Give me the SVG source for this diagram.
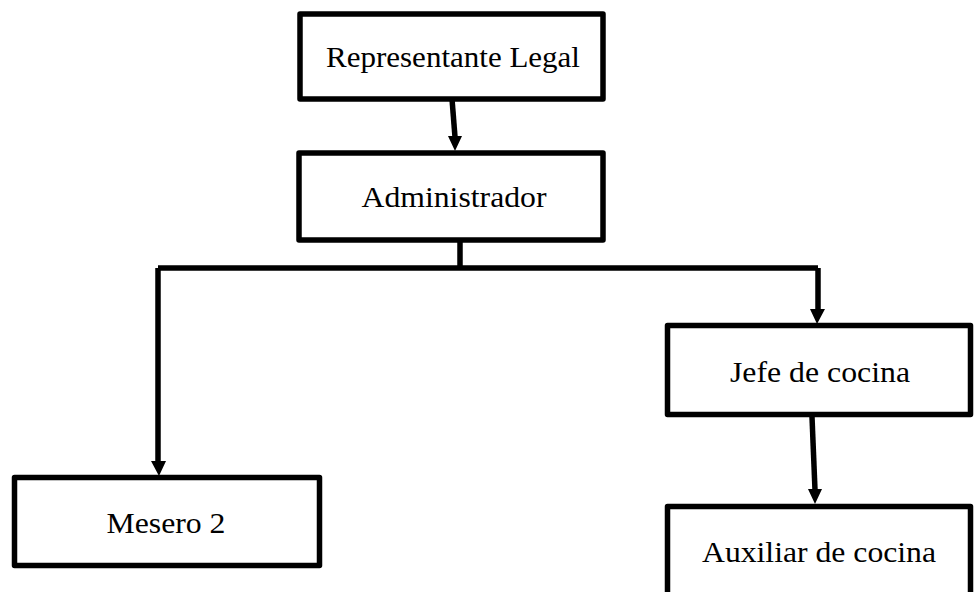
<svg xmlns="http://www.w3.org/2000/svg" width="974" height="592" viewBox="0 0 974 592">
<style>
.box{fill:#fff;stroke:#000;stroke-width:5.5;stroke-linejoin:round}
.lbl{font-family:'Liberation Serif',Tinos,'Times New Roman',serif;font-size:29px;fill:#000;text-anchor:middle}
.ln{fill:none;stroke:#000;stroke-width:5.5;stroke-linejoin:round}
.hd{fill:#000}
</style>
<rect width="974" height="592" fill="#fff"/>
<g id="connectors">
<path class="ln" d="M452,99 L455,137"/>
<polygon class="hd" points="448,136 462,136 455,151"/>
<path class="ln" d="M460,242 L460,268 M158,268 L818,268 M158,268 L158,462 M818,268 L818,310"/>
<polygon class="hd" points="151,461 166,461 159,476"/>
<polygon class="hd" points="810,309 825,309 817,324"/>
<path class="ln" d="M812,417 L815,490"/>
<polygon class="hd" points="808,489 822,489 815,504"/>
</g>
<g id="representante">
<rect class="box" x="300" y="14" width="303" height="85"/>
<text class="lbl" x="453" y="67" textLength="254" lengthAdjust="spacingAndGlyphs">Representante Legal</text>
</g>
<g id="administrador">
<rect class="box" x="299" y="153" width="304" height="87"/>
<text class="lbl" x="454" y="207" textLength="185" lengthAdjust="spacingAndGlyphs">Administrador</text>
</g>
<g id="mesero">
<rect class="box" x="14.5" y="477.5" width="305" height="88"/>
<text class="lbl" x="166" y="533" textLength="119" lengthAdjust="spacingAndGlyphs">Mesero 2</text>
</g>
<g id="jefe">
<rect class="box" x="667.5" y="325.5" width="303" height="89"/>
<text class="lbl" x="820" y="382" textLength="180" lengthAdjust="spacingAndGlyphs">Jefe de cocina</text>
</g>
<g id="auxiliar">
<rect class="box" x="667.5" y="506.5" width="303" height="100"/>
<text class="lbl" x="819" y="562" textLength="234" lengthAdjust="spacingAndGlyphs">Auxiliar de cocina</text>
</g>
</svg>
